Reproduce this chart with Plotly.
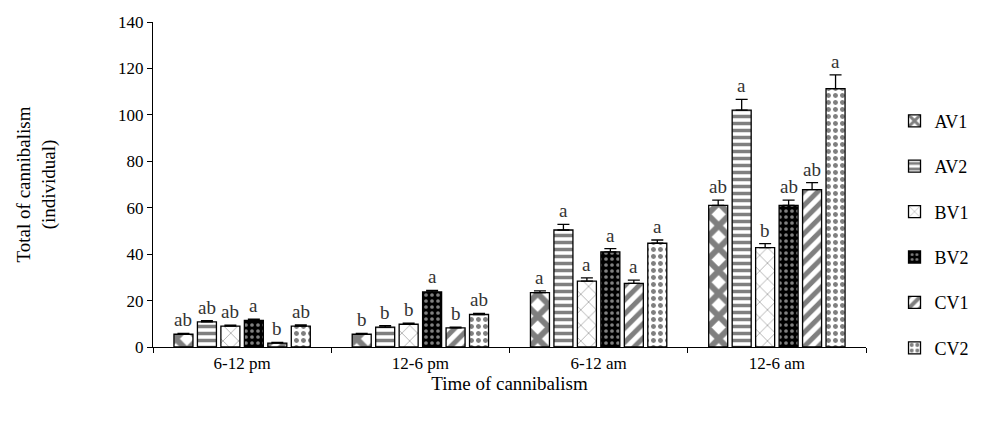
import plotly.graph_objects as go

categories = ["6-12 pm", "12-6 pm", "6-12 am", "12-6 am"]
series_names = ["AV1", "AV2", "BV1", "BV2", "CV1", "CV2"]
values = {
    "AV1": [5.5, 5.5, 23.4, 61.0],
    "AV2": [10.8, 8.6, 50.4, 102.0],
    "BV1": [9.0, 9.8, 28.4, 42.8],
    "BV2": [11.5, 23.7, 41.0, 61.0],
    "CV1": [1.7, 8.2, 27.4, 67.8],
    "CV2": [9.0, 14.0, 44.7, 111.3],
}
errors = {
    "AV1": [0.4, 0.4, 0.8, 2.3],
    "AV2": [0.5, 0.6, 2.4, 4.7],
    "BV1": [0.4, 0.5, 1.4, 1.7],
    "BV2": [0.5, 0.7, 1.4, 2.3],
    "CV1": [0.3, 0.4, 1.4, 3.0],
    "CV2": [0.5, 0.5, 1.4, 5.9],
}
letters = {
    "AV1": ["ab", "b", "a", "ab"],
    "AV2": ["ab", "b", "a", "a"],
    "BV1": ["ab", "b", "a", "b"],
    "BV2": ["a", "a", "a", "ab"],
    "CV1": ["b", "b", "a", "ab"],
    "CV2": ["ab", "ab", "a", "a"],
}
patterns = {
    "AV1": dict(shape="x", fgcolor="black", bgcolor="white", solidity=0.6, size=16),
    "AV2": dict(shape="-", fgcolor="black", bgcolor="white", solidity=0.5, size=7),
    "BV1": dict(shape="x", fgcolor="black", bgcolor="white", solidity=0.1, size=11),
    "BV2": dict(shape=".", fgcolor="white", bgcolor="black", solidity=0.3, size=6),
    "CV1": dict(shape="/", fgcolor="black", bgcolor="white", solidity=0.5, size=10),
    "CV2": dict(shape=".", fgcolor="black", bgcolor="white", solidity=0.4, size=7),
}

FONT = "Liberation Serif"
W, H = 981, 423
ML, MR, MT, MB = 145, 123, 14, 84
BARGAP, BARGROUPGAP = 0.21, 0.19

fig = go.Figure()
for i, s in enumerate(series_names):
    fig.add_trace(go.Bar(
        name=s, x=categories, y=values[s],
        marker=dict(color="white", line=dict(color="black", width=1.3), pattern=patterns[s]),
        error_y=dict(type="data", array=errors[s], visible=True, color="black",
                     thickness=1.3, width=6, symmetric=False, arrayminus=[0]*4),
        legendgroup=s,
    ))

plot_w = W - ML - MR
slot = plot_w / len(categories) * (1 - BARGAP) / len(series_names)
annotations = []
for i, s in enumerate(series_names):
    for j, c in enumerate(categories):
        annotations.append(dict(
            x=c, y=values[s][j] + errors[s][j], xref="x", yref="y",
            text=letters[s][j], showarrow=False, yanchor="bottom",
            xshift=(i - 2.5) * slot, yshift=1,
            font=dict(family=FONT, size=19, color="#333"),
        ))

fig.update_layout(
    width=W, height=H,
    margin=dict(l=ML, r=MR, t=MT, b=MB, autoexpand=False),
    paper_bgcolor="white", plot_bgcolor="white",
    barmode="group", bargap=BARGAP, bargroupgap=BARGROUPGAP,
    font=dict(family=FONT, size=17, color="black"),
    annotations=annotations,
    showlegend=True,
    legend=dict(x=1.04, xanchor="left", y=0.752, yanchor="top",
                font=dict(family=FONT, size=18), tracegroupgap=19,
                itemwidth=30, bgcolor="rgba(0,0,0,0)"),
    xaxis=dict(
        showline=True, linecolor="black", linewidth=1.3,
        ticks="outside", tickson="boundaries", ticklen=5, tickcolor="black",
        showgrid=False, tickfont=dict(family=FONT, size=17),
        title=dict(text="Time of cannibalism", font=dict(family=FONT, size=19), standoff=5),
    ),
    yaxis=dict(
        range=[0, 140], dtick=20, showline=True, linecolor="black", linewidth=1.3,
        ticks="outside", ticklen=5, tickcolor="black", showgrid=False, zeroline=False,
        tickfont=dict(family=FONT, size=17),
        title=dict(text="Total of cannibalism<br>(individual)", font=dict(family=FONT, size=19), standoff=57),
    ),
)

fig.write_html("out.html")
